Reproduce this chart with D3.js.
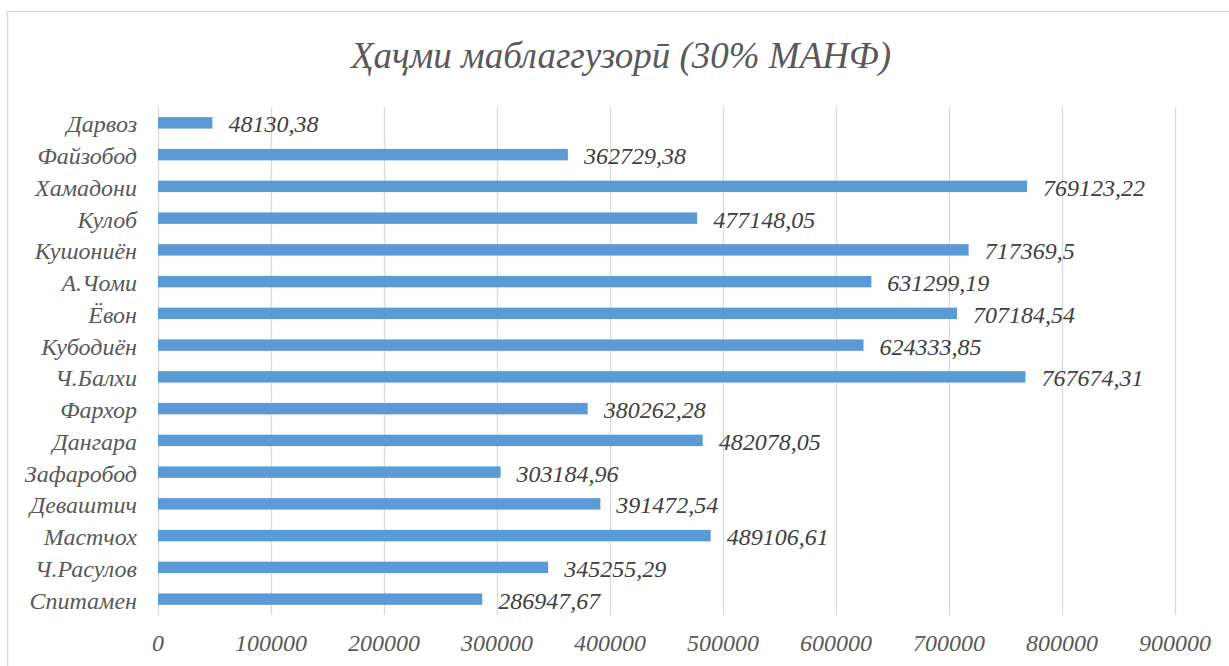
<!DOCTYPE html>
<html>
<head>
<meta charset="utf-8">
<script src="https://cdn.jsdelivr.net/npm/d3@7"></script>
<style>
  html, body { margin: 0; padding: 0; background: #fff; overflow: hidden; }
  svg { display: block; }
</style>
</head>
<body>
<svg id="chart" width="1229" height="666"></svg>
<script>
// Districts, top to bottom
const districts = ["Дарвоз", "Файзобод", "Хамадони", "Кулоб", "Кушониён", "А.Чоми", "Ёвон",
  "Кубодиён", "Ч.Балхи", "Фархор", "Дангара", "Зафаробод", "Деваштич", "Мастчох", "Ч.Расулов", "Спитамен"];
const amounts = [48130.38, 362729.38, 769123.22, 477148.05, 717369.5, 631299.19, 707184.54,
  624333.85, 767674.31, 380262.28, 482078.05, 303184.96, 391472.54, 489106.61, 345255.29, 286947.67];
const amountLabels = ["48130,38", "362729,38", "769123,22", "477148,05", "717369,5", "631299,19", "707184,54",
  "624333,85", "767674,31", "380262,28", "482078,05", "303184,96", "391472,54", "489106,61", "345255,29", "286947,67"];
const xTicks = [0, 100000, 200000, 300000, 400000, 500000, 600000, 700000, 800000, 900000];
const title = "Ҳаҷми маблаггузорӣ (30% МАНФ)";

const svg = d3.select("#chart");
const font = "'Liberation Serif', 'Times New Roman', serif";

// chart frame (runs past the right and bottom edges)
svg.append("rect")
  .attr("x", 7.5).attr("y", 11.5)
  .attr("width", 1240).attr("height", 680)
  .attr("fill", "#fff").attr("stroke", "#d9d9d9").attr("stroke-width", 1.5);

const x = d3.scaleLinear().domain([0, 900000]).range([158, 1175]);
const y = d3.scaleBand().domain(districts).range([107, 615]).paddingInner(0.64).paddingOuter(0.32);

// vertical gridlines
svg.append("g").selectAll("line").data(xTicks).join("line")
  .attr("x1", d => Math.round(x(d)) + 0.5).attr("x2", d => Math.round(x(d)) + 0.5)
  .attr("y1", 107).attr("y2", 615)
  .attr("stroke", "#d9d9d9").attr("stroke-width", 1.3);

// x tick labels
svg.append("g").selectAll("text").data(xTicks).join("text")
  .attr("x", d => x(d)).attr("y", 651)
  .attr("text-anchor", "middle")
  .attr("font-family", font).attr("font-style", "italic").attr("font-size", 24)
  .attr("fill", "#595959")
  .text(d => d3.format("d")(d));

// bars
svg.append("g").selectAll("rect").data(amounts).join("rect")
  .attr("x", x(0))
  .attr("y", (d, i) => y(districts[i]))
  .attr("width", d => x(d) - x(0))
  .attr("height", y.bandwidth())
  .attr("fill", "#5b9bd5");

// value labels
svg.append("g").selectAll("text").data(amounts).join("text")
  .attr("x", d => x(d) + 16)
  .attr("y", (d, i) => y(districts[i]) + y.bandwidth() / 2 + 1)
  .attr("dy", "0.35em")
  .attr("font-family", font).attr("font-style", "italic").attr("font-size", 24)
  .attr("fill", "#404040")
  .text((d, i) => amountLabels[i]);

// category labels
svg.append("g").selectAll("text").data(districts).join("text")
  .attr("x", 137)
  .attr("y", d => y(d) + y.bandwidth() / 2 + 1)
  .attr("dy", "0.35em")
  .attr("text-anchor", "end")
  .attr("font-family", font).attr("font-style", "italic").attr("font-size", 24)
  .attr("fill", "#595959")
  .text(d => d);

// title
svg.append("text")
  .attr("x", 621).attr("y", 68)
  .attr("text-anchor", "middle")
  .attr("font-family", font).attr("font-style", "italic").attr("font-size", 37)
  .attr("fill", "#595959")
  .text(title);
</script>
</body>
</html>
